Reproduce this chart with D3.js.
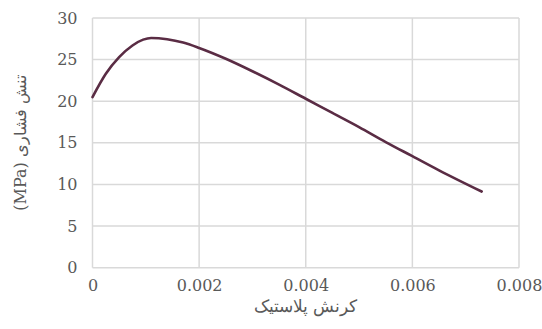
<!DOCTYPE html>
<html>
<head>
<meta charset="utf-8">
<script src="https://cdn.jsdelivr.net/npm/d3@7"></script>
<style>
  body { margin: 0; background: #fff; }
</style>
</head>
<body>
<div id="container"></div>
<script>
const w = 542;
const h = 329;
const font = "'DejaVu Serif', 'Liberation Serif', serif";

// plastic strain vs compressive stress (MPa)
const strain = [0, 0.00025, 0.0005, 0.00075, 0.00095, 0.0011, 0.0014, 0.0017, 0.002, 0.0025, 0.003, 0.0035, 0.004, 0.0045, 0.005, 0.0055, 0.006, 0.0065, 0.0073];
const stress = [20.5, 23.3, 25.3, 26.7, 27.4, 27.6, 27.45, 27.05, 26.4, 25.1, 23.6, 22.0, 20.3, 18.6, 16.9, 15.1, 13.4, 11.7, 9.15];
const xTicks = [0, 0.002, 0.004, 0.006, 0.008];
const yTicks = [0, 5, 10, 15, 20, 25, 30];
const xTitle = "کرنش پلاستیک";
const yTitle = "تنش فشاری (MPa)";

const padLeft = 92.5, padRight = 519, padTop = 18, padBottom = 267.7;

const svg = d3.select("#container")
  .append("svg")
  .attr("width", w)
  .attr("height", h)
  .attr("font-family", font);

const xScale = d3.scaleLinear().domain([0, 0.008]).range([padLeft, padRight]);
const yScale = d3.scaleLinear().domain([0, 30]).range([padBottom, padTop]);

// grid
svg.append("g")
  .selectAll("line")
  .data(yTicks)
  .enter()
  .append("line")
  .attr("x1", padLeft)
  .attr("x2", padRight)
  .attr("y1", d => yScale(d))
  .attr("y2", d => yScale(d))
  .attr("stroke", "#d9d9d9")
  .attr("stroke-width", 1.5);

svg.append("g")
  .selectAll("line")
  .data(xTicks)
  .enter()
  .append("line")
  .attr("x1", d => xScale(d))
  .attr("x2", d => xScale(d))
  .attr("y1", padTop)
  .attr("y2", padBottom)
  .attr("stroke", "#d9d9d9")
  .attr("stroke-width", 1.5);

// axes (labels only)
const xAxis = d3.axisBottom(xScale).tickValues(xTicks).tickSize(0).tickPadding(12)
  .tickFormat(d => d === 0 ? "0" : d3.format(".3f")(d));
const gx = svg.append("g")
  .attr("transform", "translate(0," + padBottom + ")")
  .call(xAxis)
  .attr("font-family", font)
  .attr("font-size", 16);
gx.select(".domain").remove();
gx.selectAll("text").attr("fill", "#595959");

const yAxis = d3.axisLeft(yScale).tickValues(yTicks).tickSize(0).tickPadding(15);
const gy = svg.append("g")
  .attr("transform", "translate(" + padLeft + ",0)")
  .call(yAxis)
  .attr("font-family", font)
  .attr("font-size", 16);
gy.select(".domain").remove();
gy.selectAll("text").attr("fill", "#595959");

// curve
const line = d3.line()
  .x((d, i) => xScale(strain[i]))
  .y(d => yScale(d))
  .curve(d3.curveMonotoneX);

svg.append("path")
  .datum(stress)
  .attr("d", line)
  .attr("fill", "none")
  .attr("stroke", "#5a2c44")
  .attr("stroke-width", 2.6)
  .attr("stroke-linecap", "round");

// titles
svg.append("text")
  .attr("x", (padLeft + padRight) / 2)
  .attr("y", 312)
  .attr("text-anchor", "middle")
  .attr("direction", "rtl")
  .attr("fill", "#595959")
  .attr("font-size", 17)
  .text(xTitle);

svg.append("text")
  .attr("transform", "translate(26," + ((padTop + padBottom) / 2) + ") rotate(-90)")
  .attr("text-anchor", "middle")
  .attr("direction", "rtl")
  .attr("fill", "#595959")
  .attr("font-size", 16)
  .text(yTitle);
</script>
</body>
</html>
